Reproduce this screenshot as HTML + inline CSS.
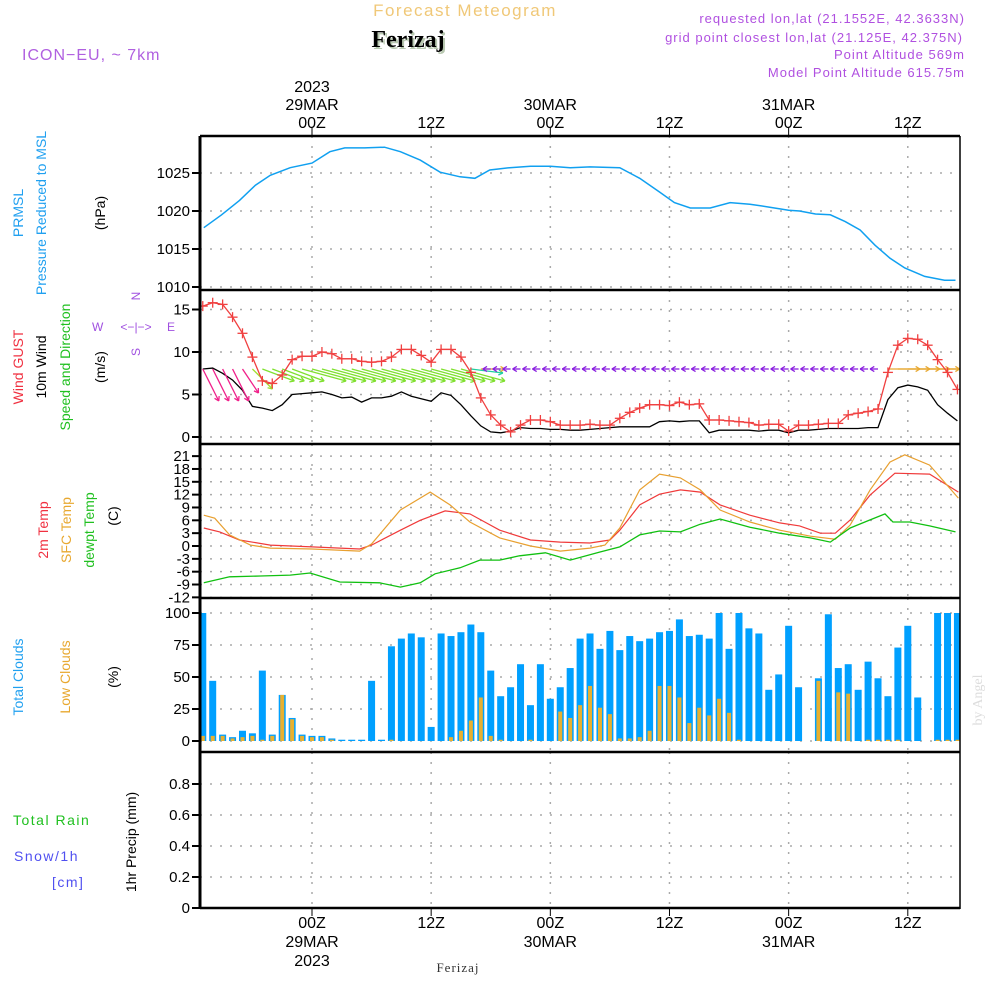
<!DOCTYPE html>
<html><head><meta charset="utf-8">
<style>
html,body{margin:0;padding:0;background:#fff;}
svg{display:block;font-family:"Liberation Sans",sans-serif;}
</style></head>
<body>
<svg id="c" width="1000" height="1000" viewBox="0 0 1000 1000">
<text x="465" y="16" font-size="17" fill="#f0c878" text-anchor="middle" letter-spacing="1.5">Forecast Meteogram</text>
<text x="410" y="49" font-size="24" font-weight="bold" fill="#b8c8b0" text-anchor="middle" font-family="Liberation Serif,serif">Ferizaj</text>
<text x="408" y="47" font-size="24" font-weight="bold" fill="#000" text-anchor="middle" font-family="Liberation Serif,serif">Ferizaj</text>
<text x="22" y="60" font-size="16" fill="#b060e0" letter-spacing="1">ICON−EU, ~ 7km</text>
<g font-size="13" fill="#b050e0" text-anchor="end" letter-spacing="1">
<text x="965" y="23">requested lon,lat (21.1552E, 42.3633N)</text>
<text x="963" y="42">grid point closest lon,lat (21.125E, 42.375N)</text>
<text x="965" y="59">Point Altitude 569m</text>
<text x="965" y="77">Model Point Altitude 615.75m</text>
</g>
<g id="g"></g>
<g font-size="14">
<text transform="translate(23,213) rotate(-90)" text-anchor="middle" fill="#20a0f0">PRMSL</text>
<text transform="translate(46,213) rotate(-90)" text-anchor="middle" fill="#20a0f0">Pressure Reduced to MSL</text>
<text transform="translate(105,213) rotate(-90)" text-anchor="middle" fill="#000">(hPa)</text>
<text transform="translate(23,367) rotate(-90)" text-anchor="middle" fill="#f03040">Wind GUST</text>
<text transform="translate(46,367) rotate(-90)" text-anchor="middle" fill="#000">10m Wind</text>
<text transform="translate(70,367) rotate(-90)" text-anchor="middle" fill="#20c020">Speed and Direction</text>
<text transform="translate(105,367) rotate(-90)" text-anchor="middle" fill="#000">(m/s)</text>
<text transform="translate(48,530) rotate(-90)" text-anchor="middle" fill="#f03040">2m Temp</text>
<text transform="translate(71,530) rotate(-90)" text-anchor="middle" fill="#e8a830">SFC Temp</text>
<text transform="translate(94,530) rotate(-90)" text-anchor="middle" fill="#20c020">dewpt Temp</text>
<text transform="translate(118,516) rotate(-90)" text-anchor="middle" fill="#000">(C)</text>
<text transform="translate(23,677) rotate(-90)" text-anchor="middle" fill="#20a0f0">Total Clouds</text>
<text transform="translate(70,677) rotate(-90)" text-anchor="middle" fill="#e8a830">Low Clouds</text>
<text transform="translate(118,677) rotate(-90)" text-anchor="middle" fill="#000">(%)</text>
<text transform="translate(136,842) rotate(-90)" text-anchor="middle" fill="#000">1hr Precip (mm)</text>
<text x="13" y="825" fill="#20c020" letter-spacing="1.5">Total  Rain</text>
<text x="14" y="861" fill="#5050f0" letter-spacing="1.5">Snow/1h</text>
<text x="52" y="887" fill="#5050f0" letter-spacing="1.5">[cm]</text>
<text transform="translate(982,700) rotate(-90)" text-anchor="middle" fill="#ddd" font-family="Liberation Serif,serif">by Angel</text>
</g>
<g font-size="12" fill="#a050e0">
<text x="92" y="331">W</text><text x="167" y="331">E</text>
<text x="136" y="300" text-anchor="middle" transform="rotate(-90,136,296)">N</text>
<text x="136" y="356" text-anchor="middle" transform="rotate(-90,136,352)">S</text>
<text x="136" y="331" text-anchor="middle" font-size="12">&lt;−|−&gt;</text>
</g>
<text x="458" y="972" font-size="13" fill="#333" text-anchor="middle" font-family="Liberation Serif,serif" letter-spacing="1">Ferizaj</text>
</svg>
<script>
// ---- data ----
const timeTickHours=[0,12,24,36,48,60];
const timeTickLabels=["00Z","12Z","00Z","12Z","00Z","12Z"];
const dateLabels=["29MAR","","30MAR","","31MAR",""];
const presHours=[-10.9,-9.1,-7.3,-5.7,-4.2,-2.2,0,1.8,3.3,5.3,7.3,8.9,10.9,12.9,14.9,16.4,17.9,19.9,22,24,26,28,31,33,35,36.5,38.1,40.1,42.1,44.1,46.1,48,49.1,50.7,52.2,53.7,55.2,56.7,58.2,59.7,61.7,63.7,64.8];
const presValues=[1017.8,1019.5,1021.4,1023.4,1024.7,1025.7,1026.3,1027.8,1028.3,1028.3,1028.4,1027.8,1026.7,1025.1,1024.5,1024.3,1025.4,1025.7,1025.9,1025.9,1025.7,1025.8,1025.7,1024.3,1022.5,1021.1,1020.4,1020.4,1021.1,1020.9,1020.5,1020.1,1020.0,1019.6,1019.5,1018.6,1017.5,1015.5,1013.8,1012.5,1011.4,1010.9,1010.9];
const presTicks=[1010,1015,1020,1025];
const startHour=-11;
const gustValues=[15.4,15.8,15.6,14.1,12.2,9.4,6.6,6.3,7.3,9.1,9.5,9.5,10,9.8,9.2,9.2,8.9,8.8,8.9,9.4,10.3,10.3,9.6,8.8,10.3,10.3,9.4,7.6,4.6,2.6,1.4,0.6,1.4,2,2,1.8,1.4,1.4,1.4,1.5,1.4,1.4,2.2,2.9,3.4,3.8,3.8,3.7,4.1,3.8,3.9,2,2,1.9,1.8,1.7,1.4,1.5,1.5,0.7,1.4,1.4,1.5,1.6,1.6,2.6,2.8,3.0,3.3,7.6,10.8,11.6,11.5,10.8,9.1,7.6,5.6];
const windValues=[8.0,8.1,7.5,6.7,5.5,3.6,3.4,3.1,3.8,5.0,5.1,5.2,5.3,5.0,4.6,4.7,4.1,4.6,4.6,4.8,5.3,4.8,4.5,4.2,5.2,4.9,3.8,2.5,1.3,0.6,0.5,0.7,1.1,1.0,1.0,0.9,0.9,0.8,0.8,0.9,1.0,1.1,1.2,1.2,1.2,1.2,1.8,1.9,1.8,1.9,1.9,0.5,0.8,0.8,0.8,0.8,0.7,0.8,0.8,0.5,0.8,0.8,0.9,1.0,1.0,1.0,1.0,1.1,1.1,4.4,5.8,6.1,5.9,5.5,3.8,2.8,1.9];
const windU=[4,4,4,4,4,5,8,8,8,8,11,11,11,11,11,11,11,11,11,11,11,11,11,11,11,11,11,8,6,-2,-2,-2,-2,-2,-2,-2,-2,-2,-2,-2,-2,-2,-2,-2,-2,-2,-2,-2,-2,-2,-2,-2,-2,-2,-2,-2,-2,-2,-2,-2,-2,-2,-2,-2,-2,-2,-2,-2,-2,8,8,8,8,8,8,8,8];
const windV=[-8,-8,-8,-8,-6,-5,-3,-3,-3,-3,-3,-3,-3,-3,-3,-3,-3,-3,-3,-3,-3,-3,-3,-3,-3,-3,-3,-1,0,0,0,0,0,0,0,0,0,0,0,0,0,0,0,0,0,0,0,0,0,0,0,0,0,0,0,0,0,0,0,0,0,0,0,0,0,0,0,0,0,0,0,0,0,0,0,0,0];
const windTicks=[0,5,10,15];
const t2Hours=[-10.9,-9.3,-7.3,-4.2,0,4.8,6,8.9,10.9,13.4,15.9,18.9,22,25,28,30,31,33,35,37.1,39.1,41.1,44.1,47.1,49.1,51.2,52.7,54.2,56.2,58.7,62.2,65.1];
const t2Values=[4.2,3.3,1.4,0.2,-0.2,-0.7,0.2,3.7,6,8.2,7.5,3.7,1.4,0.9,0.7,1.4,3.7,9.6,12.1,13.1,12.6,9.6,7.2,5.4,4.7,3,3,6.1,11.9,17,16.8,12.6];
const sfcHours=[-10.9,-9.8,-8.3,-6.2,-4.2,0,4.8,6,8.9,11.9,13.9,15.9,18.9,22,25,28,29.5,31,33,35,37.1,39.1,41.1,44.1,47.1,50.2,52.7,54.2,56.2,58.2,59.7,62.2,65.1];
const sfcValues=[7.2,6.5,2.6,0.2,-0.5,-0.7,-1.2,0.5,8.4,12.6,9.6,5.6,1.9,0,-1.2,-0.5,0.2,4.2,13.1,16.8,15.9,13.1,8.4,5.6,3.7,2.3,1.6,4.9,13.1,19.6,21.3,18.9,11.2];
const dewHours=[-10.9,-8.3,-5.2,-2.2,-0.2,2.8,6.8,8.9,10.9,12.4,14.9,16.9,18.9,20.9,23.5,26,29,31,33,35,37.1,39.1,41.1,44.1,47.1,50.2,52.2,54.2,56.2,57.7,58.5,60.2,62.2,64.8];
const dewValues=[-8.6,-7.2,-7,-6.8,-6.3,-8.4,-8.6,-9.6,-8.6,-6.5,-5.1,-3.3,-3.3,-2.3,-1.6,-3.3,-1.4,-0.2,2.6,3.5,3.3,5.1,6.3,4.4,3,1.9,0.9,4.2,6.1,7.5,5.6,5.6,4.7,3.3];
const tempTicks=[-12,-9,-6,-3,0,3,6,9,12,15,18,21];
const totalClouds=[100,47,5,3,8,6,55,5,36,18,5,4,4,2,1,1,1,47,1,74,80,84,81,11,84,82,85,91,85,55,35,42,60,28,60,33,42,57,80,84,72,86,71,82,78,80,85,86,95,82,83,80,100,72,100,88,84,40,52,90,42,0,49,99,57,60,40,62,49,35,73,90,34,0,100,100,100];
const lowClouds=[4,4,4,2,3,4,1,4,36,17,4,3,3,1,0,0,0,0,0,1,0,0,0,0,0,3,8,16,34,4,1,0,0,1,0,0,23,18,28,43,26,21,2,2,3,8,43,43,34,14,26,20,33,22,1,0,0,0,0,0,0,0,47,0,38,37,0,1,1,1,1,0,0,0,1,1,1];
const cloudTicks=[0,25,50,75,100];
const precipValues=new Array(77).fill(0);
const precipTicks=[0,0.2,0.4,0.6,0.8];
// ---- scales ----
const X0=200,X1=960;
const x=h=>312+h*9.93;
const yP=p=>287-(p-1010)*7.6;
const yW=w=>437-w*8.5;
const yT=t=>546-t*4.28;
const yC=c=>741-c*1.28;
const yR=r=>908-r*155;
const panels=[[136,290],[290,444],[444,598],[598,752],[752,908]];
const NS="http://www.w3.org/2000/svg";
const G=document.getElementById('g');
function mk(tag,attrs,parent){const e=document.createElementNS(NS,tag);for(const k in attrs)e.setAttribute(k,attrs[k]);(parent||G).appendChild(e);return e;}
const clip=mk('clipPath',{id:'pc'});mk('rect',{x:X0,y:136,width:X1-X0,height:772},clip);
const grid=mk('g',{stroke:'#aaa','stroke-width':1.5,'stroke-dasharray':'2,8'});


panels.forEach(p=>timeTickHours.forEach(h=>mk('line',{x1:x(h),x2:x(h),y1:p[0],y2:p[1]},grid)));
function hgrid(ticks,f,name){const g=mk('g',{});
 ticks.forEach(t=>{const y=f(t);mk('line',{x1:X0,x2:X1,y1:y,y2:y,stroke:'#aaa','stroke-width':1.5,'stroke-dasharray':'2,8'},g);
 mk('line',{x1:X0-8,x2:X0,y1:y,y2:y,stroke:'#000','stroke-width':2},g);
 const tx=mk('text',{x:X0-10,y:y+5,'font-size':15,'text-anchor':'end',fill:'#000'},g);tx.textContent=t;});}
hgrid(presTicks,yP,'pressure-y-axis');hgrid(windTicks,yW,'wind-y-axis');hgrid(tempTicks,yT,'temp-y-axis');
hgrid(cloudTicks,yC,'cloud-y-axis');hgrid(precipTicks,yR,'precip-y-axis');
const pl=mk('g',{'clip-path':'url(#pc)'});
function line(hs,vs,f,col,name,w){const d=hs.map((h,i)=>(i?'L':'M')+x(h).toFixed(1)+','+f(vs[i]).toFixed(1)).join('');const e=mk('path',{d,fill:'none',stroke:col,'stroke-width':w||1.5},pl);return e;}
line(presHours,presValues,yP,'#10a0f0','pressure-line');
const hrs=gustValues.map((v,i)=>startHour+i);
totalClouds.forEach((v,i)=>{const h=startHour+i;const r=mk('rect',{x:x(h)-3.5,y:yC(v),width:7,height:yC(0)-yC(v),fill:'#00a0ff'},pl);
 });
lowClouds.forEach((v,i)=>{const h=startHour+i;const r=mk('rect',{x:x(h)-2,y:yC(v),width:4,height:yC(0)-yC(v),fill:'#e8b030'},pl);
 });
precipValues.forEach((v,i)=>{const h=startHour+i;const r=mk('rect',{x:x(h)-3,y:yR(v),width:6,height:yR(0)-yR(v),fill:'#20c020'},pl);
 });
line(hrs,windValues,yW,'#000','wind-speed-line',1.3);
function acol(u,v){const a=Math.atan2(v,u)*180/Math.PI;if(u<0)return '#8a20e0';if(a<-55)return '#f0208a';if(a<-45)return '#f0a020';if(a<-30)return '#a0e030';if(a<-12)return '#80e030';if(a<-5)return '#20d0a0';return '#e8a830';}
windU.forEach((u,i)=>{const v=windV[i];const h=startHour+i;const x0=x(h),y0=yW(8);const x1=x0+u*4,y1=y0-v*4;
 const c=acol(u,v);const g=mk('g',{stroke:c,fill:'none','stroke-width':1.3},pl);
 
 mk('line',{x1:x0,y1:y0,x2:x1,y2:y1},g);const a=Math.atan2(y1-y0,x1-x0);
 [a+2.6,a-2.6].forEach(b=>mk('line',{x1:x1,y1:y1,x2:x1+5*Math.cos(b),y2:y1+5*Math.sin(b)},g));});
line(hrs,gustValues,yW,'#f04040','wind-gust-line',1.3);
gustValues.forEach((v,i)=>{const cx=x(startHour+i),cy=yW(v);const g=mk('g',{stroke:'#f04040','stroke-width':1.3},pl);
 
 mk('line',{x1:cx-5,x2:cx+5,y1:cy,y2:cy},g);mk('line',{x1:cx,x2:cx,y1:cy-5,y2:cy+5},g);});
line(t2Hours,t2Values,yT,'#f03a3a','temp-2m-line',1.2);
line(sfcHours,sfcValues,yT,'#e8a030','temp-sfc-line',1.2);
line(dewHours,dewValues,yT,'#10c010','dewpoint-line',1.3);
const fr=mk('g',{stroke:'#000',fill:'none'});
[136,290,444,598,752,908].forEach(y=>mk('line',{x1:X0,x2:X1,y1:y,y2:y,'stroke-width':2.5},fr));
mk('line',{x1:X0,x2:X0,y1:136,y2:909,'stroke-width':3},fr);
mk('line',{x1:X1,x2:X1,y1:136,y2:909,'stroke-width':1.5},fr);
const tl=mk('g',{'font-size':16,'text-anchor':'middle',fill:'#000'});
timeTickHours.forEach((h,i)=>{const xx=x(h);
 mk('line',{x1:xx,x2:xx,y1:128,y2:136,stroke:'#000'},tl);mk('line',{x1:xx,x2:xx,y1:908,y2:916,stroke:'#000'},tl);
 let t=mk('text',{x:xx,y:128},tl);t.textContent=timeTickLabels[i];
 t=mk('text',{x:xx,y:928},tl);t.textContent=timeTickLabels[i];
 if(dateLabels[i]){t=mk('text',{x:xx,y:110},tl);t.textContent=dateLabels[i];t=mk('text',{x:xx,y:947},tl);t.textContent=dateLabels[i];}
});
let t=mk('text',{x:x(0),y:92},tl);t.textContent='2023';t=mk('text',{x:x(0),y:966},tl);t.textContent='2023';
</script>
</body></html>
